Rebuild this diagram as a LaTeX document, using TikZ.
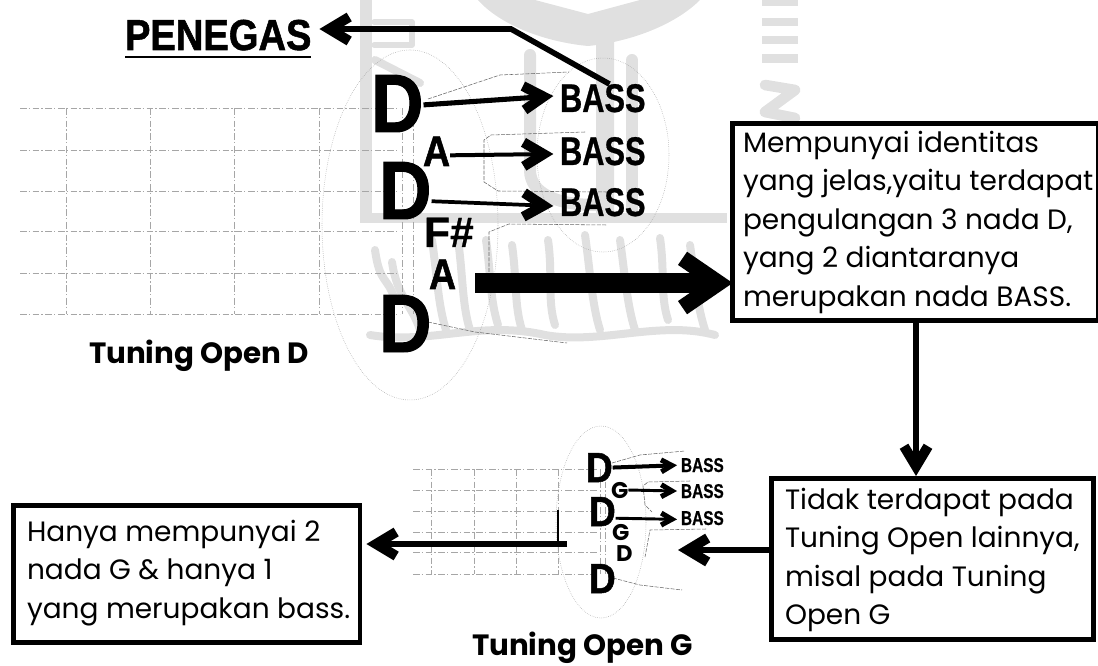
\documentclass[tikz,border=0pt]{standalone}
\usepackage{fontspec}
\usetikzlibrary{arrows.meta,calc}
\setmainfont{Poppins}
\newfontfamily\heavy{Liberation Sans}[BoldFont={Liberation Sans Bold},BoldFeatures={FakeStretch=0.88,FakeBold=1.2}]
\newfontfamily\heavyc{Liberation Sans}[BoldFont={Liberation Sans Bold},BoldFeatures={FakeStretch=0.77,FakeBold=0.6}]
\newfontfamily\heavyw{Liberation Sans}[BoldFont={Liberation Sans Bold},BoldFeatures={FakeBold=0.6}]
\newcommand{\pxfont}[3]{#1\fontsize{#2}{#3}\selectfont}
\definecolor{wm}{gray}{0.88}
\tikzset{
 txt/.style={inner sep=0pt,outer sep=0pt,anchor=base west},
 bigd/.style={txt,font=\pxfont{\heavy\bfseries}{62pt}{62pt}},
 midd/.style={txt,font=\pxfont{\heavy\bfseries}{31.5pt}{32pt}},
 bassb/.style={txt,font=\pxfont{\heavyc\bfseries}{30pt}{30pt}},
 bassm/.style={txt,font=\pxfont{\heavyc\bfseries}{15pt}{15pt}},
 noteb/.style={txt,font=\pxfont{\heavy\bfseries}{32pt}{32pt}},
 notem/.style={txt,font=\pxfont{\bfseries}{17pt}{17pt}},
 captxt/.style={txt,font=\pxfont{\bfseries}{22pt}{22pt}},
 boxed/.style={draw=black,fill=white,line width=3.6pt,inner sep=0pt,outer sep=1.8pt,anchor=north west,align=left},
 boxtext/.style={txt,font=\pxfont{}{21pt}{28.9pt},align=left},
 headl/.style={-{Straight Barb[length=27pt,width=37pt,line width=12pt]}},
 headm/.style={-{Straight Barb[length=15pt,width=18pt,line width=7.5pt]}},
 heads/.style={-{Straight Barb[length=8pt,width=9pt,line width=3.8pt]}},
 gridl/.style={gray!70,line width=.4pt,dash pattern=on 5pt off 1.5pt on 1pt off 2pt},
 fineline/.style={gray!80!black,line width=.4pt,dash pattern=on 3pt off 1pt},
 ovalline/.style={gray!75,line width=.4pt,densely dotted},
 wmark/.style={fill=wm,draw=none},
 wstroke/.style={draw=wm,line width=6pt,line join=round,line cap=round},
}
\begin{document}
\begin{tikzpicture}[x=.75pt,y=-.75pt]
\useasboundingbox (0,0) rectangle (1098,666);
% watermark
\fill[wmark] (478,0) .. controls (500,25) and (545,42) .. (588,46) .. controls (630,42) and (675,25) .. (700,0) -- (640,0) -- (588,14) -- (535,0) -- cycle;
\fill[wmark] (360,0) rectangle (372,222);
\draw[wstroke,line width=4pt] (374,22) -- (412,22) -- (412,45) -- (374,45);
\draw[wstroke] (375,60) -- (420,83);
\fill[wmark] (360,213) rectangle (727,223);
\fill[wmark] (596,42) .. controls (600,34) and (610,34) .. (614,42) -- (614,213) -- (596,213) -- cycle;
\draw[wstroke,line width=9pt] (530,55) -- (530,170) .. controls (530,195) and (560,205) .. (596,205);
\draw[wstroke,line width=9pt] (632,60) -- (632,213);
\fill[wmark] (762,0) rectangle (798,6);
\fill[wmark] (762,18) rectangle (798,26);
\fill[wmark] (762,36) rectangle (798,44);
\fill[wmark] (762,54) rectangle (798,63);
\draw[wstroke,line width=8pt] (765,85) -- (795,90) -- (765,112) -- (795,118);
\draw[wstroke,line width=8pt] (745,135) -- (745,213);
% calligraphy
\foreach \xa/\ya/\xb/\yb in {375/250/395/300,392/262/420/330,432/240/446/330,458/240/470/330,486/240/498/325,512/245/522/330,548/240/555/325,585/235/600/330,620/240/635/330,660/238/668/320,690/245/705/330}{
  \draw[wstroke] (\xa,\ya) .. controls (\xa+5,\ya+35) and (\xb-8,\yb-25) .. (\xb,\yb);}
\draw[wstroke] (370,335) .. controls (430,345) and (480,320) .. (545,335) .. controls (600,345) and (660,320) .. (715,335);
% grids
\foreach \yy in {108,150,191,231,273,314}{\draw[gridl] (20,\yy) -- (400,\yy);}
\foreach \xx in {66,150,234,319,402}{\draw[gridl] (\xx,108) -- (\xx,314);}
\draw[gridl] (413,108) -- (413,314);
\foreach \yy in {469,490,511,532,552,574}{\draw[gridl] (413,\yy) -- (598,\yy);}
\foreach \xx in {431,474,516,558,600}{\draw[gridl] (\xx,469) -- (\xx,574);}
\draw[gridl] (605,469) -- (605,574);
% ovals
\draw[ovalline] (410,225) ellipse [x radius=88,y radius=175];
\draw[ovalline] (603,155) ellipse [x radius=66,y radius=97];
\draw[ovalline] (601,522) ellipse [x radius=45,y radius=96];
% fine lines
\draw[fineline] (428,99) -- (500,75) -- (569,72);
\draw[fineline] (585,132) -- (491,135) -- (484,140) -- (484,182) -- (498,191) -- (607,192);
\draw[fineline] (489,272) -- (489,232) -- (509,224) -- (607,225);
\draw[fineline] (428,322) -- (475,332) -- (567,343);
\draw[fineline] (612,463) -- (640,455) -- (685,451);
\draw[fineline] (690,481) -- (648,482) -- (643,486) -- (645,505) -- (652,512);
\draw[fineline] (706,529) -- (650,530) -- (645,557);
\draw[fineline] (613,578) -- (640,585) -- (682,590);
% labels
\node[txt,font=\pxfont{\heavy\bfseries}{32.5pt}{34pt}] (pen) at (125,50) {PENEGAS};
\node[bigd] (d1) at (371,132) {D};
\node[bigd] (d2) at (379,219) {D};
\node[bigd] (d3) at (379,352) {D};
\node[noteb] (a1) at (423,166) {A};
\node[txt,font=\pxfont{\heavyw\bfseries}{32pt}{32pt}] (fs) at (424,247) {F\#};
\node[noteb] (a2) at (429,289) {A};
\node[bassb] (b1) at (560,112) {BASS};
\node[bassb] (b2) at (560,165) {BASS};
\node[bassb] (b3) at (560,216) {BASS};
\node[captxt] (capd) at (89,363) {Tuning Open D};
\node[midd] (gd1) at (586,482) {D};
\node[midd] (gd2) at (589,526) {D};
\node[midd] (gd3) at (589,593) {D};
\node[notem] (gg1) at (611,498) {G};
\node[notem] (gg2) at (612,540) {G};
\node[notem] (gd) at (616,561) {D};
\node[bassm] (gb1) at (681,472) {BASS};
\node[bassm] (gb2) at (681,498) {BASS};
\node[bassm] (gb3) at (681,525) {BASS};
\node[captxt] (capg) at (472,655) {Tuning Open G};
% boxes
\node[boxed,minimum width=274.5pt,minimum height=147.75pt] (box1) at (730,121) {};
\node[boxed,minimum width=241.5pt,minimum height=120.75pt] (box2) at (769,476) {};
\node[boxed,minimum width=260pt,minimum height=103pt] (box3) at (11,503) {};
\node[boxtext,anchor=north west] (t1) at (743,131) {Mempunyai identitas\\yang jelas,yaitu terdapat\\pengulangan 3 nada D,\\yang 2 diantaranya\\merupakan nada BASS.};
\node[boxtext,anchor=north west] (t2) at (785,488) {Tidak terdapat pada\\Tuning Open lainnya,\\misal pada Tuning\\Open G};
\node[boxtext,anchor=north west] (t3) at (27,520) {Hanya mempunyai 2\\nada G \& hanya 1\\yang merupakan bass.};
% connectors
\coordinate (bend) at (511,29);
\coordinate (thick) at (475,283);
\coordinate (stem) at (916,400);
\coordinate (midg) at (678,550);
\coordinate (gstart) at (567,544);
\coordinate (gdrop) at (558,510);
\draw[line width=4.2pt,headm,shorten >=6pt] ([xshift=5pt]b1.north) -- (bend) -- (pen.east |- bend);
\draw[line width=3.8pt,headm,shorten >=5pt] ([yshift=-1pt]d1.east) -- ([yshift=2pt]b1.west);
\draw[line width=3pt,headm,shorten >=5pt] ([yshift=-3pt]a1.east) -- ([yshift=-2pt]b2.west);
\draw[line width=2.8pt,headm,shorten >=5pt] ([yshift=-8pt]d2.east) -- ([yshift=-3pt]b3.west);
\draw[line width=15pt,headl,shorten >=-2pt] (thick) -- (box1.west |- thick);
\draw[line width=3.8pt,headm] (stem |- box1.south) -- (stem |- box2.north);
\draw[line width=3.8pt,headm] (box2.west |- midg) -- (midg);
\draw[line width=3.8pt,headm,shorten >=3pt] (gstart) -- (box3.east |- gstart);
\draw[line width=.8pt] (gdrop) -- (gdrop |- gstart);
\draw[line width=3pt,heads,shorten >=3pt] (gd1.east) -- (gb1.west);
\draw[line width=2.2pt,heads,shorten >=3pt] (gg1.east) -- (gb2.west);
\draw[line width=2.2pt,heads,shorten >=3pt] ([yshift=-5pt]gd2.east) -- ([yshift=-1pt]gb3.west);
\draw[line width=1.8pt] ([yshift=-5pt]pen.south west) -- ([yshift=-5pt]pen.south east);
\end{tikzpicture}
\end{document}
